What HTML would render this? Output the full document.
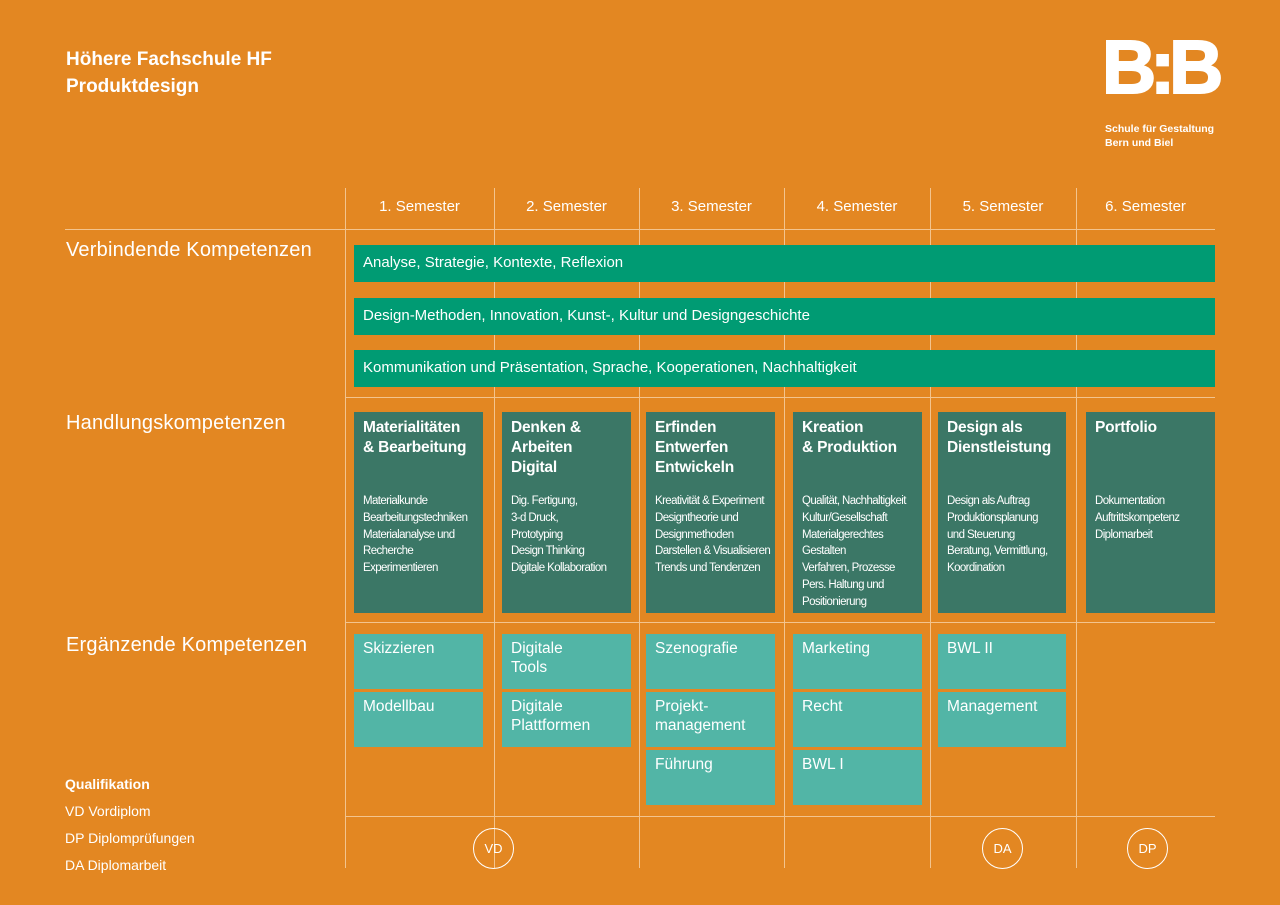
<!DOCTYPE html>
<html><head><meta charset="utf-8"><style>
body{margin:0;width:1280px;height:905px;background:#E38722;position:relative;overflow:hidden;font-family:"Liberation Sans",sans-serif;color:#fff}
div{position:absolute;box-sizing:border-box}
.vl{width:1px;background:#F3C48E;top:188px;height:680px}
.hl{height:1px;background:#F3C48E}
.sem{top:198px;font-size:15px;text-align:center;width:146px}
.sec{left:66px;font-size:20px;letter-spacing:0.2px}
.bar{left:354px;width:861px;height:37px;background:#009B73;font-size:15px;padding:9px 0 0 9px}
.dk{top:412px;height:201px;width:129px;background:#3B7766;padding:6px 0 0 9px}
.dk b{display:block;font-size:15.5px;line-height:20px;height:75px;letter-spacing:-0.2px;white-space:nowrap}
.dk span{display:block;font-size:11.5px;line-height:16.8px;letter-spacing:-0.6px;white-space:nowrap}
.lt{width:129px;height:55px;background:#52B5A6;font-size:15.5px;line-height:19px;padding:5px 0 0 9px}
.c{width:41px;height:41px;border:1px solid #fff;border-radius:50%;top:828px;font-size:13px;text-align:center;line-height:39px}
.q{left:65px;font-size:14px}
</style></head><body>
<div style="left:66px;top:46px;font-size:19px;font-weight:bold;line-height:27px">Höhere Fachschule HF<br>Produktdesign</div>
<div style="left:1102px;top:30px;font-size:75px;font-weight:bold;letter-spacing:-6px;line-height:75px;-webkit-text-stroke:2px #fff">B:B</div>
<div style="left:1105px;top:122px;font-size:10.5px;font-weight:bold;line-height:14px">Schule für Gestaltung<br>Bern und Biel</div>

<div class="vl" style="left:345px"></div><div class="vl" style="left:494px"></div><div class="vl" style="left:639px"></div><div class="vl" style="left:784px"></div><div class="vl" style="left:930px"></div><div class="vl" style="left:1076px"></div>
<div class="hl" style="left:65px;width:1150px;top:229px"></div>
<div class="hl" style="left:345px;width:870px;top:397px"></div>
<div class="hl" style="left:345px;width:870px;top:622px"></div>
<div class="hl" style="left:345px;width:870px;top:816px"></div>

<div class="sem" style="left:345px;width:149px">1. Semester</div>
<div class="sem" style="left:494px;width:145px">2. Semester</div>
<div class="sem" style="left:639px;width:145px">3. Semester</div>
<div class="sem" style="left:784px;width:146px">4. Semester</div>
<div class="sem" style="left:930px;width:146px">5. Semester</div>
<div class="sem" style="left:1076px;width:139px">6. Semester</div>

<div class="sec" style="top:239px">Verbindende Kompetenzen</div>
<div class="sec" style="top:412px">Handlungskompetenzen</div>
<div class="sec" style="top:634px">Ergänzende Kompetenzen</div>

<div class="bar" style="top:245px">Analyse, Strategie, Kontexte, Reflexion</div>
<div class="bar" style="top:298px">Design-Methoden, Innovation, Kunst-, Kultur und Designgeschichte</div>
<div class="bar" style="top:350px">Kommunikation und Präsentation, Sprache, Kooperationen, Nachhaltigkeit</div>

<div class="dk" style="left:354px"><b>Materialitäten<br>&amp; Bearbeitung</b><span>Materialkunde<br>Bearbeitungstechniken<br>Materialanalyse und<br>Recherche<br>Experimentieren</span></div>
<div class="dk" style="left:502px"><b>Denken &amp;<br>Arbeiten<br>Digital</b><span>Dig. Fertigung,<br>3-d Druck,<br>Prototyping<br>Design Thinking<br>Digitale Kollaboration</span></div>
<div class="dk" style="left:646px"><b>Erfinden<br>Entwerfen<br>Entwickeln</b><span>Kreativität &amp; Experiment<br>Designtheorie und<br>Designmethoden<br>Darstellen &amp; Visualisieren<br>Trends und Tendenzen</span></div>
<div class="dk" style="left:793px"><b>Kreation<br>&amp; Produktion</b><span>Qualität, Nachhaltigkeit<br>Kultur/Gesellschaft<br>Materialgerechtes<br>Gestalten<br>Verfahren, Prozesse<br>Pers. Haltung und<br>Positionierung</span></div>
<div class="dk" style="left:938px;width:128px"><b>Design als<br>Dienstleistung</b><span>Design als Auftrag<br>Produktionsplanung<br>und Steuerung<br>Beratung, Vermittlung,<br>Koordination</span></div>
<div class="dk" style="left:1086px"><b>Portfolio</b><span>Dokumentation<br>Auftrittskompetenz<br>Diplomarbeit</span></div>

<div class="lt" style="left:354px;top:634px">Skizzieren</div>
<div class="lt" style="left:354px;top:692px">Modellbau</div>
<div class="lt" style="left:502px;top:634px">Digitale<br>Tools</div>
<div class="lt" style="left:502px;top:692px">Digitale<br>Plattformen</div>
<div class="lt" style="left:646px;top:634px">Szenografie</div>
<div class="lt" style="left:646px;top:692px">Projekt-<br>management</div>
<div class="lt" style="left:646px;top:750px">Führung</div>
<div class="lt" style="left:793px;top:634px">Marketing</div>
<div class="lt" style="left:793px;top:692px">Recht</div>
<div class="lt" style="left:793px;top:750px">BWL I</div>
<div class="lt" style="left:938px;top:634px;width:128px">BWL II</div>
<div class="lt" style="left:938px;top:692px;width:128px">Management</div>

<div class="c" style="left:473px">VD</div>
<div class="c" style="left:982px">DA</div>
<div class="c" style="left:1127px">DP</div>

<div class="q" style="top:776px;font-weight:bold">Qualifikation</div>
<div class="q" style="top:803px">VD Vordiplom</div>
<div class="q" style="top:830px">DP Diplomprüfungen</div>
<div class="q" style="top:857px">DA Diplomarbeit</div>
</body></html>
